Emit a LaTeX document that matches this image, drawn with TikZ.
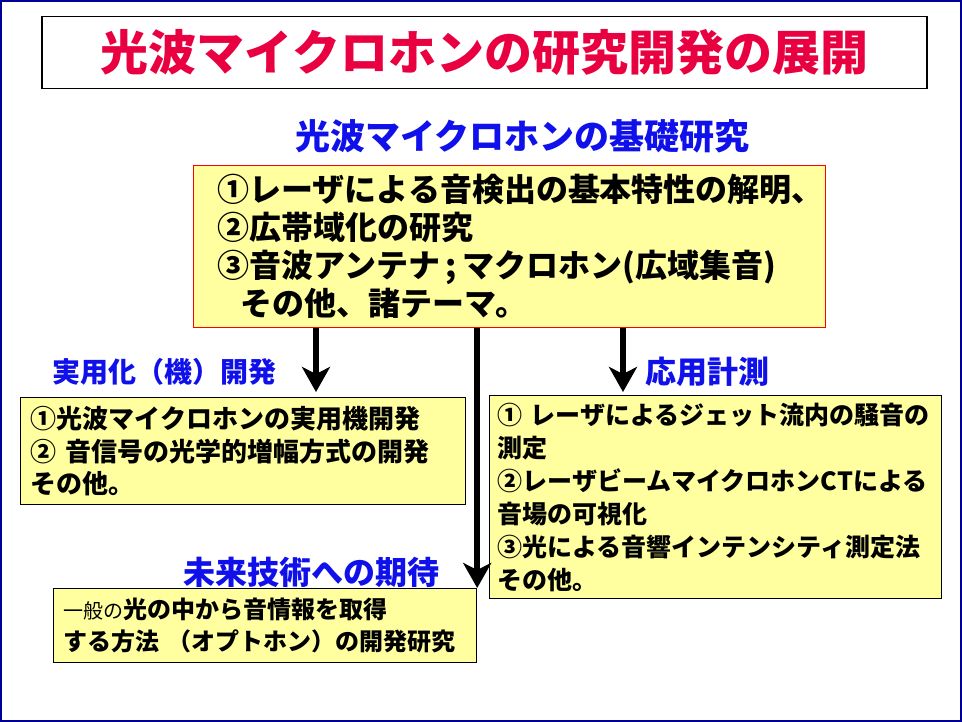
\documentclass[tikz,border=0pt]{standalone}
\usepackage{fontspec}
\newfontfamily\jp{Noto Sans CJK JP}
\usepackage{tikz}
\usetikzlibrary{positioning, arrows.meta}

\definecolor{titlered}{RGB}{232,0,64}
\definecolor{headblue}{RGB}{16,16,235}
\definecolor{paneyellow}{RGB}{255,255,160}
\definecolor{framenavy}{RGB}{0,0,150}

\newcommand{\jpsize}[2]{\jp\bfseries\fontsize{#1}{#2}\selectfont}

\tikzset{
  pane/.style={draw=black, fill=paneyellow, line width=1.2pt, anchor=north west, align=left, inner ysep=0pt},
  head/.style={text=headblue, inner sep=0pt, font=\jpsize{#1}{#1}},
  arr/.style={line width=5.5pt, -{Stealth[length=25pt, width=28pt, inset=7pt]}}
}

\begin{document}
\begin{tikzpicture}[x=1pt, y=-1pt]
    \useasboundingbox (0,0) rectangle (962,722);
    \draw[framenavy, line width=2pt] (1,1) rectangle (961,721);

    \node[draw=black, line width=1.2pt, minimum width=885pt, minimum height=72pt,
          text=titlered, font=\jpsize{48}{48}] (title) at (484.5,52.5) {光波マイクロホンの研究開発の展開};

    \node[pane, draw=red, minimum width=632pt, minimum height=162pt, inner xsep=24pt, text width=584pt,
          font=\jpsize{32}{38}] (basic) at (193,165)
        {①レーザによる音検出の基本特性の解明、\\
         ②広帯域化の研究\\
         ③音波アンテナ\,;\,マクロホン(広域集音)\\
         \hspace*{0.7em}その他、諸テーマ。};
    \node[head=35, above=12pt of basic, xshift=13pt] (basich) {光波マイクロホンの基礎研究};

    \node[pane, minimum width=445pt, minimum height=107pt, inner xsep=10pt, text width=425pt,
          font=\jpsize{26}{32.5}] (practical) at (20,397)
        {①光波マイクロホンの実用機開発\\
         ② 音信号の光学的増幅方式の開発\\
         その他。};
    \node[head=28, anchor=west] (practicalh) at (52,372) {実用化（機）開発};

    \node[pane, minimum width=452pt, minimum height=203pt, inner xsep=8pt, text width=436pt,
          font=\jpsize{25}{33}] (applied) at (489,395)
        {① レーザによるジェット流内の騒音の\\
         測定\\
         ②レーザビームマイクロホンCTによる\\
         音場の可視化\\
         ③光による音響インテンシティ測定法\\
         その他。};
    \node[head=31, anchor=west] (appliedh) at (645,372) {応用計測};

    \node[pane, minimum width=423pt, minimum height=74pt, inner xsep=10pt, text width=403pt,
          font=\jpsize{24}{32}] (future) at (53,588)
        {{\mdseries\fontsize{20}{20}\selectfont 一般の}光の中から音情報を取得\\
         する方法 （オプトホン）の開発研究};
    \node[head=32, anchor=west] (futureh) at (183,572) {未来技術への期待};

    \coordinate (a1) at (316,0);
    \coordinate (a3) at (623,0);
    \draw[arr, shorten >=5pt] (basic.south -| a1) -- (practical.north -| a1);
    \draw[arr] (basic.south -| future.north east) -- (future.north east);
    \draw[arr, shorten >=3pt] (basic.south -| a3) -- (applied.north -| a3);
\end{tikzpicture}
\end{document}
